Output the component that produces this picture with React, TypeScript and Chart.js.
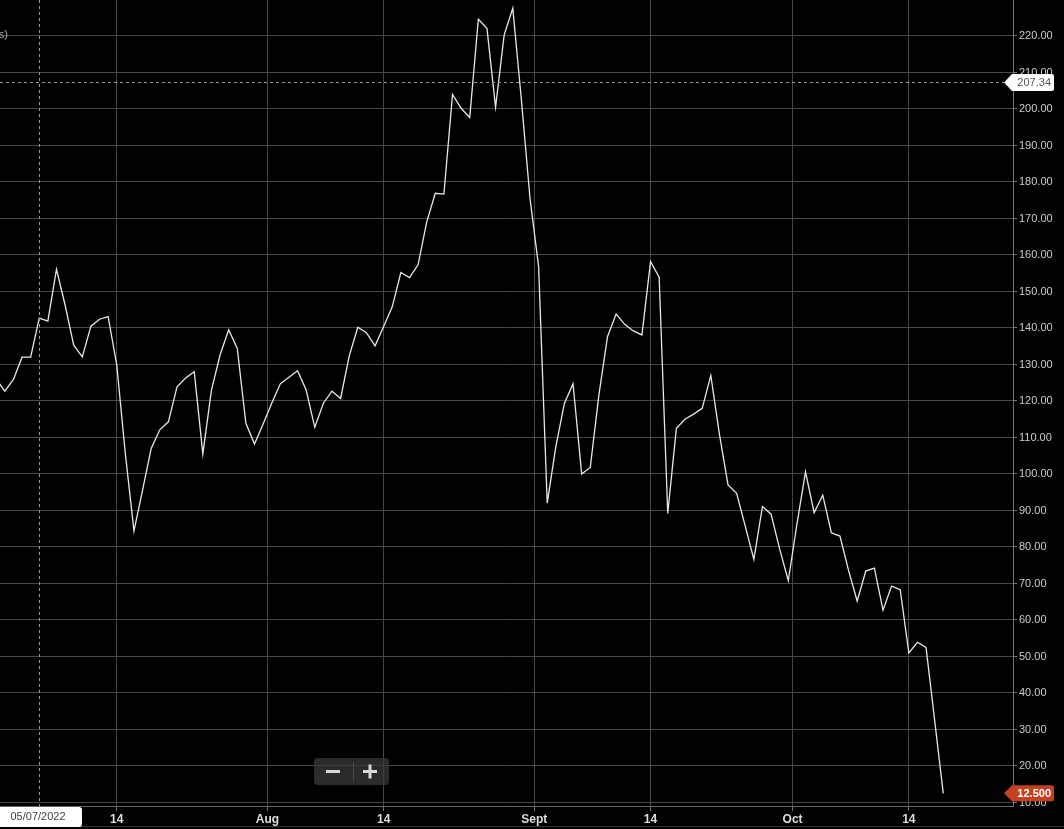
import React, { useEffect, useRef } from "react";
import { Chart, registerables } from "chart.js";

Chart.register(...registerables);

// Day offsets counted from 1 July 2022 (June 30 = -1)
const firstDay = -1;
const prices: number[] = [
  126.0, 122.7, 125.9, 132.0, 132.0, 142.7, 141.9, 156.1, 146.3, 135.3,
  132.1, 140.5, 142.4, 143.1, 129.9, 105.5, 84.4, 95.6, 107.0, 112.1,
  114.3, 123.9, 126.3, 128.0, 105.5, 123.0, 132.6, 139.5, 134.4, 113.9,
  108.2, 113.7, 119.4, 124.7, 126.5, 128.3, 123.0, 112.8, 119.4, 122.7,
  120.7, 132.3, 140.2, 138.7, 135.1, 140.4, 145.8, 155.2, 153.8, 157.3,
  169.0, 176.9, 176.7, 204.0, 200.2, 197.7, 224.6, 222.1, 200.5, 220.3,
  227.6, 202.5, 175.5, 156.8, 92.0, 107.5, 119.4, 124.7, 100.0, 101.8,
  121.6, 137.6, 143.8, 141.0, 139.2, 138.1, 158.2, 153.9, 89.2, 112.5,
  115.0, 116.4, 118.0, 127.0, 110.9, 97.0, 94.7, 85.7, 76.6, 91.1,
  89.0, 79.4, 70.8, 86.2, 100.6, 89.4, 94.2, 83.9, 83.0, 73.6,
  65.2, 73.4, 74.2, 62.7, 69.3, 68.3, 51.0, 53.9, 52.5, 32.5,
  12.5,
];

// x-axis ticks (day offsets from 1 July; month starts sit half a day before the 1st)
const xTickDays: number[] = [13, 30.5, 44, 61.5, 75, 91.5, 105];
const xTickLabels: string[] = ["14", "Aug", "14", "Sept", "14", "Oct", "14"];
const xMin = -0.56;
const xMax = 117.1;

const yTickValues: number[] = [
  10, 20, 30, 40, 50, 60, 70, 80, 90, 100, 110, 120, 130, 140, 150, 160, 170,
  180, 190, 200, 210, 220,
];
const yMin = 9.04;
const yMax = 229.86;

const crosshairDay = 4;
const crosshairDateLabel = "05/07/2022";
const crosshairValue = 207.34;
const lastPriceLabel = "12.500";

const FONT = 'Arial, "Liberation Sans", sans-serif';

function roundRect(
  ctx: CanvasRenderingContext2D,
  x: number,
  y: number,
  w: number,
  h: number,
  r: number
) {
  ctx.beginPath();
  ctx.moveTo(x + r, y);
  ctx.lineTo(x + w - r, y);
  ctx.quadraticCurveTo(x + w, y, x + w, y + r);
  ctx.lineTo(x + w, y + h - r);
  ctx.quadraticCurveTo(x + w, y + h, x + w - r, y + h);
  ctx.lineTo(x + r, y + h);
  ctx.quadraticCurveTo(x, y + h, x, y + h - r);
  ctx.lineTo(x, y + r);
  ctx.quadraticCurveTo(x, y, x + r, y);
  ctx.closePath();
}

function priceTag(
  ctx: CanvasRenderingContext2D,
  tipX: number,
  cy: number,
  right: number,
  h: number,
  fill: string,
  textColor: string,
  text: string,
  bold: boolean
) {
  const half = h / 2;
  const r = 2;
  ctx.beginPath();
  ctx.moveTo(tipX, cy);
  ctx.lineTo(tipX + 8, cy - half);
  ctx.lineTo(right - r, cy - half);
  ctx.quadraticCurveTo(right, cy - half, right, cy - half + r);
  ctx.lineTo(right, cy + half - r);
  ctx.quadraticCurveTo(right, cy + half, right - r, cy + half);
  ctx.lineTo(tipX + 8, cy + half);
  ctx.closePath();
  ctx.fillStyle = fill;
  ctx.fill();
  ctx.fillStyle = textColor;
  ctx.font = `${bold ? "bold " : ""}11px ${FONT}`;
  ctx.textAlign = "right";
  ctx.textBaseline = "middle";
  ctx.fillText(text, right - 3, cy + 0.5);
}

const backgroundPlugin = {
  id: "bg",
  beforeDraw(chart: any) {
    const ctx = chart.ctx as CanvasRenderingContext2D;
    ctx.save();
    ctx.fillStyle = "#000000";
    ctx.fillRect(0, 0, chart.width, chart.height);
    ctx.restore();
  },
};

const overlayPlugin = {
  id: "overlay",
  afterDraw(chart: any) {
    const ctx = chart.ctx as CanvasRenderingContext2D;
    const area = chart.chartArea;
    const xs = chart.scales.x;
    const ys = chart.scales.y;
    ctx.save();

    // bottom frame line
    ctx.strokeStyle = "#333333";
    ctx.lineWidth = 1;
    ctx.beginPath();
    ctx.moveTo(0, 826.5);
    ctx.lineTo(chart.width, 826.5);
    ctx.stroke();

    // partial legend text at top-left
    ctx.fillStyle = "#aaaaaa";
    ctx.font = `11px ${FONT}`;
    ctx.textAlign = "right";
    ctx.textBaseline = "middle";
    ctx.fillText("(s)", 8, 35);

    // crosshair lines
    const cx = Math.round(xs.getPixelForValue(crosshairDay)) + 0.5;
    const cyv = Math.round(ys.getPixelForValue(crosshairValue)) + 0.5;
    ctx.strokeStyle = "#9a9a9a";
    ctx.setLineDash([3, 3]);
    ctx.beginPath();
    ctx.moveTo(cx, area.top);
    ctx.lineTo(cx, area.bottom);
    ctx.stroke();
    ctx.beginPath();
    ctx.moveTo(area.left, cyv);
    ctx.lineTo(area.right - 9, cyv);
    ctx.stroke();
    ctx.setLineDash([]);

    // zoom buttons
    ctx.fillStyle = "rgba(58,58,58,0.75)";
    roundRect(ctx, 314, 758, 75, 27, 4);
    ctx.fill();
    ctx.strokeStyle = "#4a4a4a";
    ctx.beginPath();
    ctx.moveTo(353.5, 762);
    ctx.lineTo(353.5, 781);
    ctx.stroke();
    ctx.fillStyle = "#d8d8d8";
    ctx.fillRect(326, 770, 14, 3);
    ctx.fillRect(363, 770, 14, 3);
    ctx.fillRect(368.5, 764.5, 3, 14);

    // crosshair value tag
    priceTag(ctx, area.right - 9, cyv, 1054, 17, "#ffffff", "#555555", crosshairValue.toFixed(2), false);

    // last price tag
    const lastY = ys.getPixelForValue(prices[prices.length - 1]);
    priceTag(ctx, area.right - 9, lastY, 1054, 16, "#c4401f", "#ffffff", lastPriceLabel, true);

    // date box
    ctx.fillStyle = "#ffffff";
    roundRect(ctx, -4, area.bottom + 1, 86, 20, 3);
    ctx.fill();
    ctx.fillStyle = "#444444";
    ctx.font = `11px ${FONT}`;
    ctx.textAlign = "center";
    ctx.textBaseline = "middle";
    ctx.fillText(crosshairDateLabel, 38, area.bottom + 11);

    ctx.restore();
  },
};

export default function App() {
  const canvasRef = useRef<HTMLCanvasElement | null>(null);

  useEffect(() => {
    const canvas = canvasRef.current;
    if (!canvas) return;
    const points = prices.map((p, i) => ({ x: firstDay + i, y: p }));
    const chart = new Chart(canvas, {
      type: "line",
      data: {
        datasets: [
          {
            data: points,
            borderColor: "#e8e8e8",
            borderWidth: 1.3,
            pointRadius: 0,
            tension: 0,
            fill: false,
          },
        ],
      },
      options: {
        animation: false,
        responsive: false,
        devicePixelRatio: 1,
        layout: { padding: 0 },
        plugins: { legend: { display: false }, tooltip: { enabled: false } },
        scales: {
          x: {
            type: "linear",
            min: xMin,
            max: xMax,
            afterBuildTicks: (scale: any) => {
              scale.ticks = xTickDays.map((v) => ({ value: v }));
            },
            afterFit: (scale: any) => {
              scale.height = 23;
              scale.paddingLeft = 0;
              scale.paddingRight = 0;
            },
            grid: {
              color: "#474747",
              lineWidth: 1,
              tickLength: 5,
              tickColor: "#777777",
            },
            border: { color: "#666666" },
            ticks: {
              autoSkip: false,
              maxRotation: 0,
              padding: 1,
              color: "#dddddd",
              font: { family: FONT, size: 12, weight: "bold" },
              callback: (_v: any, i: number) => xTickLabels[i],
            },
          },
          y: {
            type: "linear",
            position: "right",
            min: yMin,
            max: yMax,
            afterBuildTicks: (scale: any) => {
              scale.ticks = yTickValues.map((v) => ({ value: v }));
            },
            afterFit: (scale: any) => {
              scale.width = 51;
              scale.paddingTop = 0;
              scale.paddingBottom = 0;
            },
            grid: {
              color: "#474747",
              lineWidth: 1,
              tickLength: 4,
              tickColor: "#777777",
            },
            border: { color: "#777777" },
            ticks: {
              padding: 2,
              color: "#cccccc",
              font: { family: FONT, size: 11 },
              callback: (v: any) => Number(v).toFixed(2),
            },
          },
        },
      },
      plugins: [backgroundPlugin, overlayPlugin],
    } as any);
    return () => chart.destroy();
  }, []);

  return (
    <div
      style={{
        position: "fixed",
        left: 0,
        top: 0,
        width: 1064,
        height: 829,
        background: "#000",
        overflow: "hidden",
      }}
    >
      <canvas ref={canvasRef} width={1064} height={829} style={{ display: "block" }} />
    </div>
  );
}
